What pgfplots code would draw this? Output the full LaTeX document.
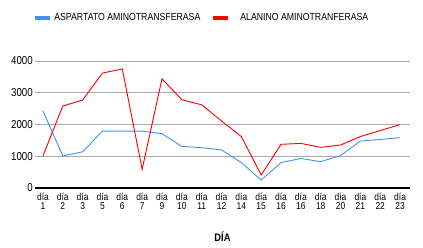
\documentclass[border=0pt]{standalone}
\usepackage{pgfplots}
\pgfplotsset{compat=1.18}
\usepackage{fontspec}
\setmainfont{Liberation Sans}[FakeStretch=0.85]
\definecolor{ast}{RGB}{66,146,232}
\definecolor{alt}{RGB}{255,0,0}
\definecolor{gridg}{RGB}{170,170,170}
\begin{document}
\begin{tikzpicture}
\path[use as bounding box] (0,0) rectangle (423bp,248bp);
\begin{axis}[
  at={(35bp,60bp)}, anchor=south west,
  scale only axis, width=375bp, height=127bp,
  xmin=-0.4, xmax=18.5, ymin=0, ymax=4000,
  clip=false,
  axis x line*=bottom, axis y line*=left,
  x axis line style={black, line width=1.3bp, -},
  y axis line style={draw=none},
  ytick={0,1000,2000,3000,4000},
  ymajorgrids, grid style={gridg, line width=0.8bp},
  xtick={0,...,18}, xtick style={draw=none},
  xticklabels={{día\\1},{día\\2},{día\\3},{día\\5},{día\\6},{día\\7},{día\\9},{día\\10},{día\\11},{día\\12},{día\\14},{día\\15},{día\\16},{día\\16},{día\\18},{día\\20},{día\\21},{día\\22},{día\\23}},
  xticklabel style={align=center, font=\fontsize{10}{9.5}\selectfont, inner sep=2bp, yshift=-2.5bp},
  /pgf/number format/assume math mode=true,
  /pgf/number format/1000 sep={},
  yticklabel style={font=\fontsize{11.5}{11.5}\selectfont, inner sep=2bp},
  ytick style={draw=none},
  xlabel={\textbf{DÍA}}, xlabel style={font=\fontsize{11}{11}\selectfont, yshift=-17bp},
  legend columns=2,
  legend style={draw=none, fill=none, at={(-0.013,1.34)}, anchor=west,
    font=\fontsize{10.3}{11}\selectfont,
    /tikz/every even column/.append style={column sep=9bp}},
  legend cell align=left,
  legend image code/.code={\draw[#1, line width=4bp] (0bp,0bp) -- (15bp,0bp);},
]
\addplot[ast, line width=0.9bp] coordinates {
(0,2430) (1,1010) (2,1140) (3,1790) (4,1790) (5,1790) (6,1710) (7,1310) (8,1270) (9,1200) (10,800) (11,250) (12,800) (13,930) (14,830) (15,1020) (16,1480) (17,1530) (18,1585)};
\addlegendentry{ASPARTATO AMINOTRANSFERASA}
\addplot[alt, line width=0.9bp] coordinates {
(0,1010) (1,2580) (2,2770) (3,3620) (4,3750) (5,590) (6,3440) (7,2780) (8,2620) (9,2110) (10,1620) (11,410) (12,1375) (13,1405) (14,1280) (15,1355) (16,1620) (17,1810) (18,1995)};
\addlegendentry{\hspace{8bp}ALANINO AMINOTRANFERASA}
\end{axis}
\end{tikzpicture}
\end{document}
